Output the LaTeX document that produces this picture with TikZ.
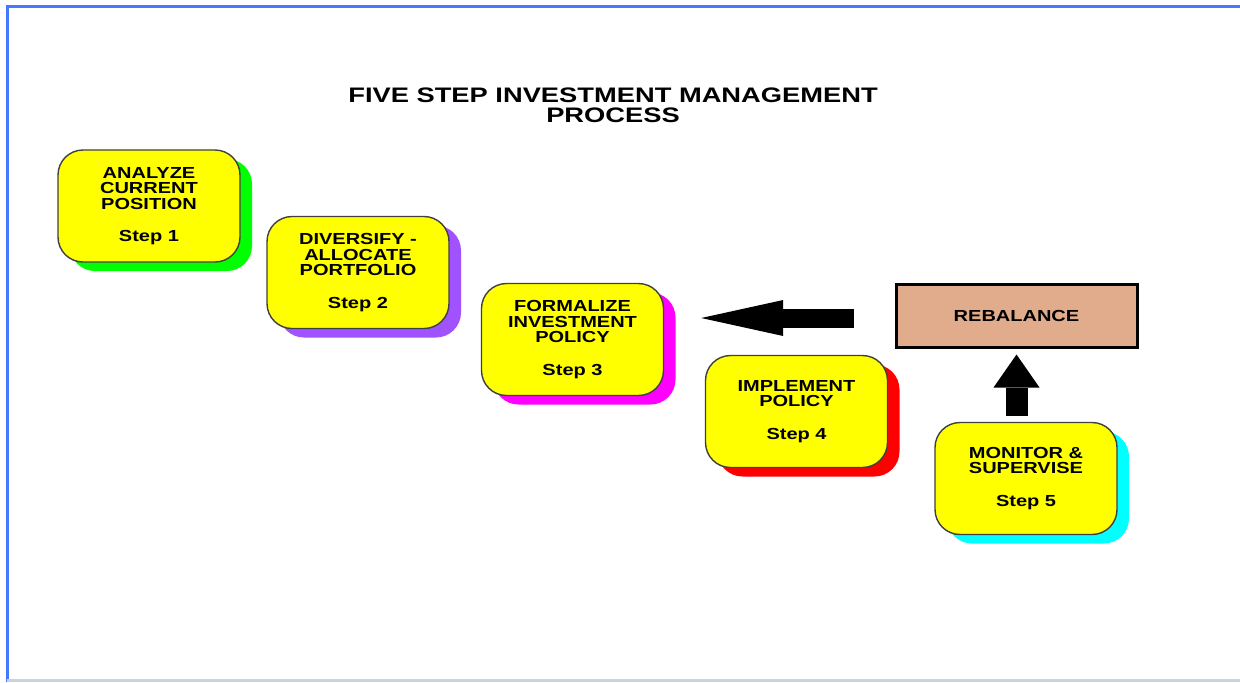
\documentclass[tikz,border=0pt]{standalone}
\usepackage{fontspec}
\setmainfont{Liberation Sans}[FakeStretch=1.25]
\usepackage{xcolor}
\usepackage{tikz}
\usetikzlibrary{positioning,shadows,arrows.meta}

\definecolor{frameblue}{RGB}{70,120,255}
\definecolor{framegray}{RGB}{200,212,224}
\definecolor{boxyellow}{RGB}{255,255,0}
\definecolor{shadowgreen}{RGB}{0,255,0}
\definecolor{shadowviolet}{RGB}{160,82,255}
\definecolor{shadowmagenta}{RGB}{255,0,255}
\definecolor{shadowred}{RGB}{255,0,0}
\definecolor{shadowcyan}{RGB}{0,255,255}
\definecolor{rebaltan}{RGB}{224,172,140}

\tikzset{
	stepbox/.style={rectangle,rounded corners=12.5pt,draw=black!75,line width=0.7pt,
		fill=boxyellow,minimum width=91pt,minimum height=56pt,align=center,
		font=\fontsize{8}{7.75}\selectfont\bfseries,
		drop shadow={shadow xshift=6pt,shadow yshift=-4.5pt,fill=#1,opacity=1}},
	leftarrow/.style={line width=9.5pt,-{Triangle[length=41pt,width=18pt,line width=0pt]}},
	uparrow/.style={line width=11pt,-{Triangle[length=16.5pt,width=23pt,line width=0pt]}}
}

\begin{document}
\begin{tikzpicture}[x=0.5pt,y=-0.5pt,node distance=2cm,on grid]
	\useasboundingbox (0,0) rectangle (1240,682);
	\fill[white] (0,0) rectangle (1240,682);
	\draw[frameblue,line width=1.5pt] (1240,6) -- (7,6) -- (7,682);
	\draw[framegray,line width=1.5pt] (7,680) -- (1240,680);

	\node[align=center,font=\fontsize{10.5}{10}\selectfont\bfseries,xscale=1.04] (title) at (613,105)
		{FIVE STEP INVESTMENT MANAGEMENT\\PROCESS};

	\node[stepbox=shadowgreen] (s1) at (149,206) {ANALYZE\\CURRENT\\POSITION\\[8.5pt]Step 1};
	\node[stepbox=shadowviolet] (s2) [below right=33.25pt and 104.5pt of s1] {DIVERSIFY -\\ALLOCATE\\PORTFOLIO\\[8.5pt]Step 2};
	\node[stepbox=shadowmagenta] (s3) [below right=33.5pt and 107.25pt of s2] {FORMALIZE\\INVESTMENT\\POLICY\\[8.5pt]Step 3};
	\node[stepbox=shadowred] (s4) [below right=36pt and 112pt of s3] {IMPLEMENT\\POLICY\\[8.5pt]Step 4};
	\node[stepbox=shadowcyan] (s5) [below right=33.5pt and 114.75pt of s4] {MONITOR \&\\SUPERVISE\\[8.5pt]Step 5};

	\node[draw=black,line width=1.5pt,fill=rebaltan,minimum width=120.5pt,minimum height=31.5pt,
		font=\fontsize{8}{8}\selectfont\bfseries] (rebal) at (1016.5,315.5) {REBALANCE};

	\draw[leftarrow] ([xshift=-20.5pt,yshift=-1.25pt]rebal.west) -- ([xshift=18.5pt,yshift=-1.25pt]rebal.west -| s3.east);
	\draw[uparrow] ([yshift=3pt]s5.north -| rebal.south) -- ([yshift=-3pt]rebal.south);
\end{tikzpicture}
\end{document}
